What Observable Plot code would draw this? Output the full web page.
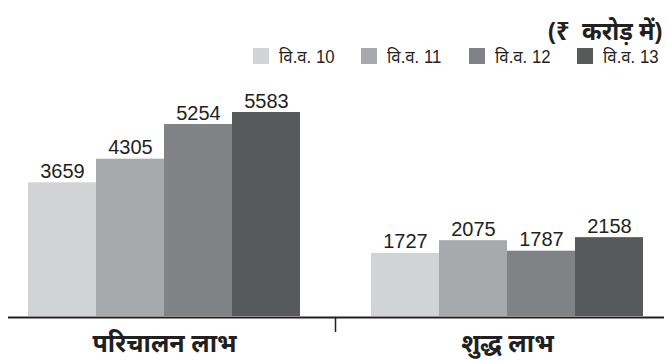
<!DOCTYPE html>
<html><head><meta charset="utf-8">
<script src="https://cdn.jsdelivr.net/npm/d3@7"></script>
<script src="https://cdn.jsdelivr.net/npm/@observablehq/plot@0.6"></script>
<style>
body{margin:0;background:#fff;font-family:"Liberation Sans",Arial,sans-serif;}
#wrap{position:relative;width:667px;height:361px;overflow:hidden;background:#fff}
#unit{position:absolute;right:5px;top:13px;font-size:25px;font-weight:bold;color:#231f20;white-space:pre;font-family:"Noto Sans","Liberation Sans",sans-serif;transform:scaleX(0.95);transform-origin:right center;}
#legend{position:absolute;right:5px;top:44px;display:flex;align-items:center;font-size:18px;color:#231f20;font-family:"Liberation Sans","Noto Sans",sans-serif;}
.item{display:flex;align-items:center;margin-left:23px}
.item:first-child{margin-left:0}
.sw{width:16px;height:16px;margin-right:10px}
.lt{display:inline-block;width:59px;white-space:nowrap}
.lt span{display:inline-block;transform:scaleX(0.93);transform-origin:left center}
#chart{position:absolute;left:0;top:71px}
</style></head><body>
<div id="wrap"><div id="unit"></div><div id="legend"></div><div id="chart"></div></div>
<script>
const categories = ["परिचालन लाभ", "शुद्ध लाभ"];
const years = ["वि.व. 10", "वि.व. 11", "वि.व. 12", "वि.व. 13"];
const operatingProfit = [3659, 4305, 5254, 5583];
const netProfit = [1727, 2075, 1787, 2158];
const colors = ["#d1d3d4", "#a7a9ac", "#808285", "#58595b"];
const unitLabel = "(₹  करोड़ में)";

const series = [operatingProfit, netProfit];
const data = [];
categories.forEach((c, i) => years.forEach((y, j) => data.push({category: c, year: y, value: series[i][j]})));

document.getElementById("unit").textContent = unitLabel;
const legend = d3.select("#legend");
years.forEach((y, j) => {
  const it = legend.append("div").attr("class", "item");
  it.append("div").attr("class", "sw").style("background", colors[j]);
  it.append("div").attr("class", "lt").append("span").text(y);
});

const plot = Plot.plot({
  width: 667, height: 290,
  marginLeft: 8, marginRight: 3, marginTop: 41, marginBottom: 45,
  fx: {domain: categories, paddingInner: 0.2006, paddingOuter: 0.0538, axis: null},
  x: {domain: years, padding: 0, axis: null},
  y: {domain: [0, d3.max(operatingProfit)], axis: null},
  color: {domain: years, range: colors},
  style: {fontFamily: "Liberation Sans, Arial, sans-serif", overflow: "visible"},
  marks: [
    Plot.barY(data, {fx: "category", x: "year", y: "value", fill: "year"}),
    Plot.text(data, {fx: "category", x: "year", y: "value", text: d => String(d.value), lineAnchor: "bottom", dy: -5, fontSize: 20, fill: "#231f20"}),
    Plot.text(categories, {fx: d => d, frameAnchor: "bottom", text: d => d, lineAnchor: "top", dy: 18, fontSize: 25, fontWeight: "bold", fill: "#231f20", fontFamily: "Noto Sans, sans-serif"})
  ]
});
document.getElementById("chart").append(plot);

// baseline axis line and group divider tick, positioned from the scales
const yS = plot.scale("y"), fxS = plot.scale("fx");
const y0 = yS.apply(0);
const svg = d3.select(plot);
svg.append("line")
  .attr("x1", 8).attr("x2", 667 - 3)
  .attr("y1", y0 + 1.5).attr("y2", y0 + 1.5)
  .attr("stroke", "#231f20").attr("stroke-width", 2);
const mid = (fxS.apply(categories[0]) + fxS.bandwidth + fxS.apply(categories[1])) / 2;
svg.append("line")
  .attr("x1", mid).attr("x2", mid)
  .attr("y1", y0 + 2).attr("y2", y0 + 16)
  .attr("stroke", "#231f20").attr("stroke-width", 1.5);
</script>
</body></html>
